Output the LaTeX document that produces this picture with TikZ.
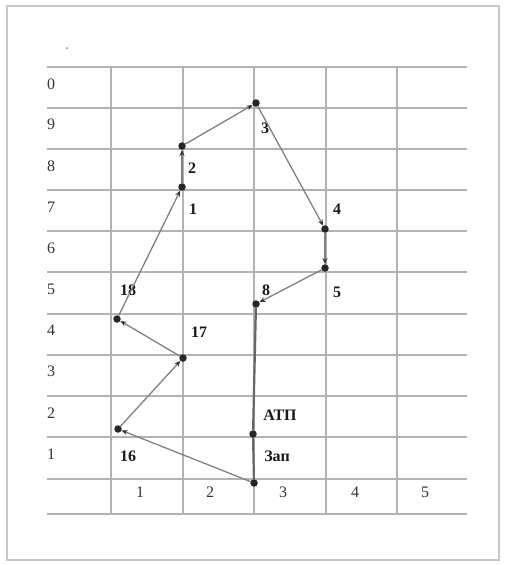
\documentclass[tikz,border=0pt]{standalone}
\usepackage{fontspec}
\setmainfont{Liberation Serif}
\usetikzlibrary{arrows.meta}
\begin{document}
\begin{tikzpicture}[x=1pt,y=-1pt,
 gridline/.style={draw=black!30, line width=1.2pt},
 dot/.style={circle, fill=black!85, inner sep=0pt, minimum size=7.5pt},
 route/.style={draw=black!50, line width=1.3pt, -{Stealth[length=6pt,width=5pt,color=black!80]}},
 mainroute/.style={draw=black!60, line width=2.2pt},
 lbl/.style={font=\fontsize{16}{18}\selectfont\bfseries, text=black!90, inner sep=0pt},
 axis/.style={font=\fontsize{16}{18}\selectfont, text=black!80, inner sep=0pt}]
\useasboundingbox (0,0) rectangle (504,565);
\fill[white] (0,0) rectangle (504,565);
\draw[black!22, line width=1.5pt] (7,6) rectangle (499,560);
\fill[black!50] (67,48) circle (1pt);
% grid
\foreach \y in {67,108,149,190,231,272,314,355,396,437,479,514}
  \draw[gridline] (47,\y) -- (467,\y);
\foreach \x in {111,183,254,326,397}
  \draw[gridline] (\x,67) -- (\x,514);
% row labels
\foreach \t/\y in {0/84,9/124,8/166,7/207,6/248,5/289,4/330,3/371,2/413,1/454}
  \node[axis] (row\t) at (51,\y) {\t};
% column labels
\foreach \t/\x in {1/140,2/210,3/283,4/355,5/425}
  \node[axis] (col\t) at (\x,492) {\t};
% points
\node[dot] (p3an) at (254,483) {};
\node[dot] (pATP) at (253,434) {};
\node[dot] (p8)   at (256,304) {};
\node[dot] (p5)   at (325,268) {};
\node[dot] (p4)   at (325,229) {};
\node[dot] (p3)   at (256,103) {};
\node[dot] (p2)   at (182,146) {};
\node[dot] (p1)   at (182,187) {};
\node[dot] (p18)  at (117,319) {};
\node[dot] (p17)  at (183,358) {};
\node[dot] (p16)  at (118,429) {};
% labels
\node[lbl] (l3)   at (265,128) {3};
\node[lbl] (l2)   at (192,168) {2};
\node[lbl] (l1)   at (193,209) {1};
\node[lbl] (l4)   at (337,209) {4};
\node[lbl] (l5)   at (337,292) {5};
\node[lbl] (l8)   at (266,290) {8};
\node[lbl] (l18)  at (128,290) {18};
\node[lbl] (l17)  at (199,332) {17};
\node[lbl] (l16)  at (128,456) {16};
\node[lbl] (lATP) at (280,415) {АТП};
\node[lbl] (l3an) at (277,456) {Зап};
% route
\draw[mainroute] (p8) -- (pATP) -- (p3an);
\draw[route] (p3an) -- (p16);
\draw[route] (p16) -- (p17);
\draw[route] (p17) -- (p18);
\draw[route] (p18) -- (p1);
\draw[route] (p1) -- (p2);
\draw[route] (p2) -- (p3);
\draw[route] (p3) -- (p4);
\draw[route] (p4) -- (p5);
\draw[route] (p5) -- (p8);
\end{tikzpicture}
\end{document}
